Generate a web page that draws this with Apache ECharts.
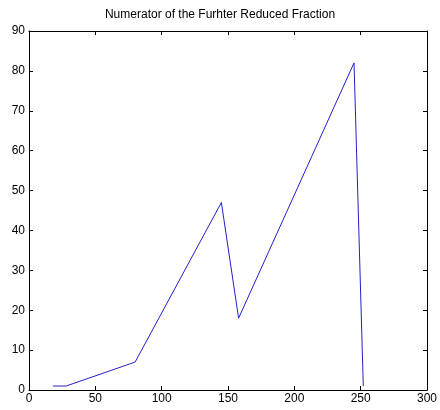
<!DOCTYPE html>
<html lang="en">
<head>
    <meta charset="UTF-8">
    <title>Numerator of the Furhter Reduced Fraction</title>
    <script src="https://cdn.jsdelivr.net/npm/echarts@6/dist/echarts.min.js"></script>
    <style>
        body { margin: 0; background: #fff; }
    </style>
</head>
<body>
<div id="main" style="width:440px;height:410px;"></div>
<script>
    // data
    const xValues = [18, 28, 80, 145, 158, 245, 252];
    const yValues = [1, 1, 7, 47, 18, 82, 1];
    const titleText = 'Numerator of the Furhter Reduced Fraction';

    const points = xValues.map((x, i) => [x, yValues[i]]);

    const chart = echarts.init(document.getElementById('main'));
    const labelFont = { color: '#000', fontFamily: 'Liberation Sans', fontSize: 12 };
    const tickIn = { show: true, inside: true, length: 4, lineStyle: { color: '#000' } };
    const lineBox = { show: true, onZero: false, lineStyle: { color: '#000', width: 1 } };

    chart.setOption({
        animation: false,
        backgroundColor: '#fff',
        title: {
            text: titleText,
            left: 'center',
            top: 4,
            textStyle: { fontFamily: 'Liberation Sans', fontSize: 12, fontWeight: 'normal', color: '#000' }
        },
        grid: { left: 29, right: 8, top: 31, bottom: 20 },
        xAxis: [
            {
                type: 'value', min: 0, max: 300, interval: 50,
                axisLine: lineBox, axisTick: tickIn, splitLine: { show: false },
                axisLabel: Object.assign({ margin: 3 }, labelFont)
            },
            {
                type: 'value', position: 'top', min: 0, max: 300, interval: 50,
                axisLine: lineBox, axisTick: tickIn, splitLine: { show: false },
                axisLabel: { show: false }
            }
        ],
        yAxis: [
            {
                type: 'value', min: 0, max: 90, interval: 10,
                axisLine: lineBox, axisTick: tickIn, splitLine: { show: false },
                axisLabel: Object.assign({ margin: 4 }, labelFont)
            },
            {
                type: 'value', position: 'right', min: 0, max: 90, interval: 10,
                axisLine: lineBox, axisTick: tickIn, splitLine: { show: false },
                axisLabel: { show: false }
            }
        ],
        series: [
            {
                type: 'line',
                data: points,
                showSymbol: false,
                lineStyle: { color: '#2222cc', width: 1 }
            }
        ]
    });
</script>
</body>
</html>
